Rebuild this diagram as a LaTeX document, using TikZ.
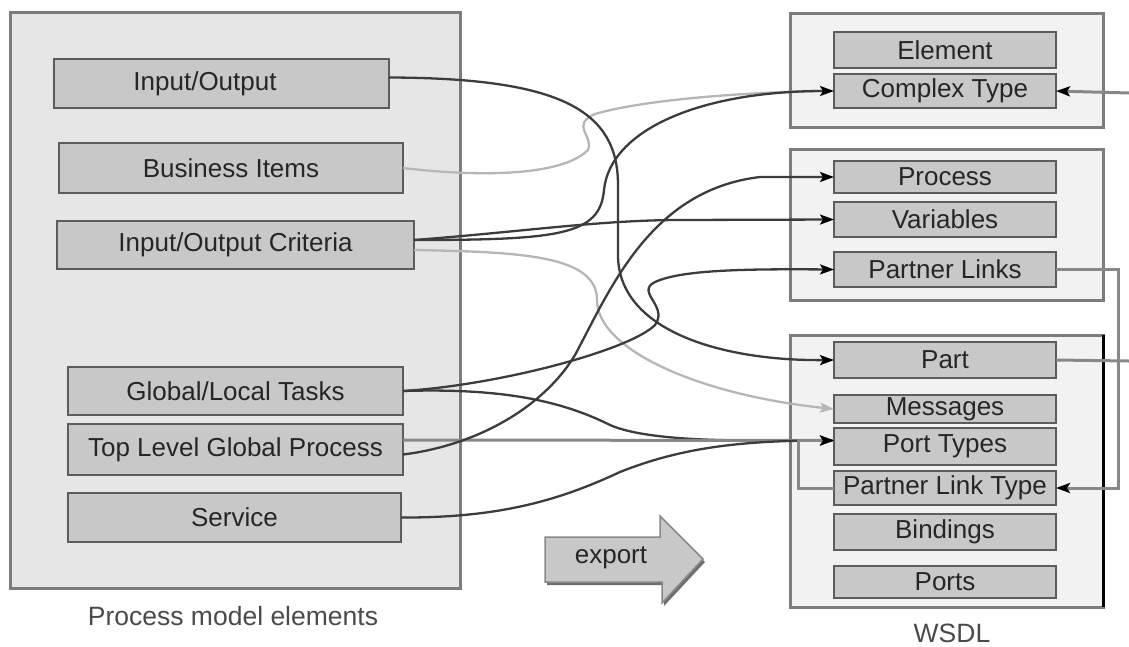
\documentclass[tikz,border=0pt]{standalone}
\usepackage{fontspec}
\setmainfont{Liberation Sans}
\usetikzlibrary{arrows.meta}
\definecolor{panelfillL}{HTML}{E6E6E6}
\definecolor{panelfillR}{HTML}{F2F2F2}
\definecolor{panelline}{HTML}{7C7C7C}
\definecolor{itemfill}{HTML}{C8C8C8}
\definecolor{itemline}{HTML}{5C5C5C}
\definecolor{itemtext}{HTML}{262626}
\definecolor{darkline}{HTML}{3C3C3C}
\definecolor{lightline}{HTML}{B6B6B6}
\definecolor{midline}{HTML}{888888}
\definecolor{labeltext}{HTML}{4A4A4A}
\definecolor{shadowcol}{HTML}{6E6E6E}
\begin{document}
\begin{tikzpicture}[x=1pt,y=-1pt,
  panel/.style={draw=panelline, line width=3pt, outer sep=0pt, inner sep=0pt},
  item/.style={draw=itemline, fill=itemfill, line width=2.5pt, outer sep=0pt, inner sep=0pt,
    text=itemtext, font=\fontsize{26}{30}\selectfont},
  caption/.style={text=labeltext, font=\fontsize{26.5}{30}\selectfont, inner sep=0pt},
  conn/.style={draw=darkline, line width=2.3pt},
  lightconn/.style={draw=lightline, line width=2.3pt},
  midconn/.style={draw=midline, line width=3pt},
  tip/.style={-{Stealth[length=14pt,width=10pt,inset=3pt,color=black]}},
  graytip/.style={-{Stealth[length=14pt,width=10pt,inset=3pt,color=lightline]}}
]
\path[use as bounding box] (0,0) rectangle (1129,646);

% ---- process model panel ----
\node[panel, fill=panelfillL, minimum width=450pt, minimum height=576pt] (pmpanel) at (235,300) {};
\node[item, minimum width=335pt, minimum height=49pt] (io) at (221.5,83.5) {Input/Output\hspace*{33pt}};
\node[item, minimum width=344pt, minimum height=50pt] (biz) at (231,168) {Business Items};
\node[item, minimum width=357pt, minimum height=48pt] (crit) at (235.5,245) {Input/Output Criteria};
\node[item, minimum width=335pt, minimum height=48pt] (tasks) at (235.5,391) {Global/Local Tasks};
\node[item, minimum width=335pt, minimum height=51pt] (top) at (235.5,449.5) {Top Level Global Process};
\node[item, minimum width=333pt, minimum height=49pt] (svc) at (234.5,517.5) {Service};
\node[caption] (pmlabel) at (233,616) {Process model elements};

% ---- schema panel ----
\node[panel, fill=panelfillR, minimum width=313pt, minimum height=114pt] (xsdpanel) at (946.5,70) {};
\node[item, minimum width=222pt, minimum height=36pt] (element) at (945,50) {Element};
\node[item, minimum width=222pt, minimum height=34pt] (ctype) at (945,91) {Complex Type};

% ---- process panel ----
\node[panel, fill=panelfillR, minimum width=313pt, minimum height=151pt] (bpelpanel) at (946.5,224.5) {};
\node[item, minimum width=222pt, minimum height=32pt] (process) at (945,177) {Process};
\node[item, minimum width=222pt, minimum height=35pt] (vars) at (945,219.5) {Variables};
\node[item, minimum width=222pt, minimum height=35pt] (plinks) at (945,269.5) {Partner Links};

% ---- WSDL panel ----
\node[panel, fill=panelfillR, minimum width=313pt, minimum height=272pt] (wsdlpanel) at (946.5,471) {};
\draw[black, line width=3pt] (wsdlpanel.north east) -- (wsdlpanel.south east);
\node[item, minimum width=222pt, minimum height=36pt] (part) at (945,360) {Part};
\node[item, minimum width=222pt, minimum height=28pt] (msgs) at (945,409) {Messages};
\node[item, minimum width=222pt, minimum height=37pt] (ptypes) at (945,446.5) {Port Types};
\node[item, minimum width=222pt, minimum height=34pt] (pltype) at (945,488) {Partner Link Type};
\node[item, minimum width=222pt, minimum height=36pt] (bind) at (945,532) {Bindings};
\node[item, minimum width=222pt, minimum height=32pt] (ports) at (945,582) {Ports};
\node[caption] (wsdllabel) at (952,633) {WSDL};

% entry point shared by the Port Types arrows
\coordinate (ptin) at ([yshift=6pt]ptypes.west);
% free ends at the right margin
\coordinate (ctfar) at (1129,93);
\coordinate (partfar) at (1129,361);

% ---- export arrow ----
\fill[shadowcol] (547,540) -- (662,540) -- (662,519) -- (705,562) -- (664,606) -- (664,585) -- (547,585) -- cycle;
\draw[fill=itemfill, draw=midline, line width=1.5pt]
  (545,537) -- (660,537) -- (660,516) -- (703,559) -- (662,603) -- (662,582) -- (545,582) -- cycle;
\node[text=itemtext, font=\fontsize{26}{30}\selectfont, inner sep=0pt] (exportlbl) at (611,558) {export};

% ---- light connectors ----
\draw[lightconn] (biz.east) .. controls (470,176) and (560,178) .. (588,150)
  .. controls (594,136) and (570,125) .. (595,114)
  .. controls (650,98) and (760,92) .. ([xshift=-14pt]ctype.west);
\draw[lightconn, graytip] ([yshift=-5pt]crit.east) .. controls (520,252) and (597,255) .. (597,300)
  .. controls (597,350) and (700,395) .. (msgs.west);

% ---- dark connectors ----
\draw[conn, tip] ([yshift=6pt]io.east) .. controls (560,78) and (618,110) .. (618,185)
  -- (618,255) .. controls (618,330) and (720,361) .. (part.west);
\draw[conn, tip] ([yshift=5pt]crit.east) .. controls (560,240) and (600,235) .. (604,190)
  .. controls (610,130) and (700,91) .. (ctype.west);
\draw[conn, tip] ([yshift=5pt]crit.east) .. controls (520,232) and (600,220) .. (680,220) -- (vars.west);
\draw[conn, tip] (tasks.east) .. controls (500,385) and (630,350) .. (655,325)
  .. controls (670,305) and (630,290) .. (660,280)
  .. controls (690,269) and (760,269) .. (plinks.west);
\draw[conn] (tasks.east) .. controls (500,388) and (560,400) .. (610,425)
  .. controls (640,438) and (700,440.5) .. (760,440.5) -- (ptin);
\draw[midconn] ([yshift=9.5pt]top.east) -- (ptin);
\draw[conn, tip] ([yshift=-5pt]top.east) .. controls (480,445) and (545,405) .. (575,355)
  .. controls (610,290) and (650,190) .. (760,177) -- (process.west);
\draw[conn, tip] (svc.east) .. controls (500,518) and (560,500) .. (620,472)
  .. controls (680,448) and (740,440.5) .. (ptin);

% ---- links inside and beside the WSDL side ----
\draw[midconn, tip] (plinks.east) -- (1118,269.5) |- (pltype.east);
\draw[midconn, tip] (pltype.west) -| (798,440.5) -- (ptin);
\draw[midconn] (part.east) -- (partfar);
\draw[midconn, tip] (ctfar) -- (ctype.east);
\end{tikzpicture}
\end{document}
